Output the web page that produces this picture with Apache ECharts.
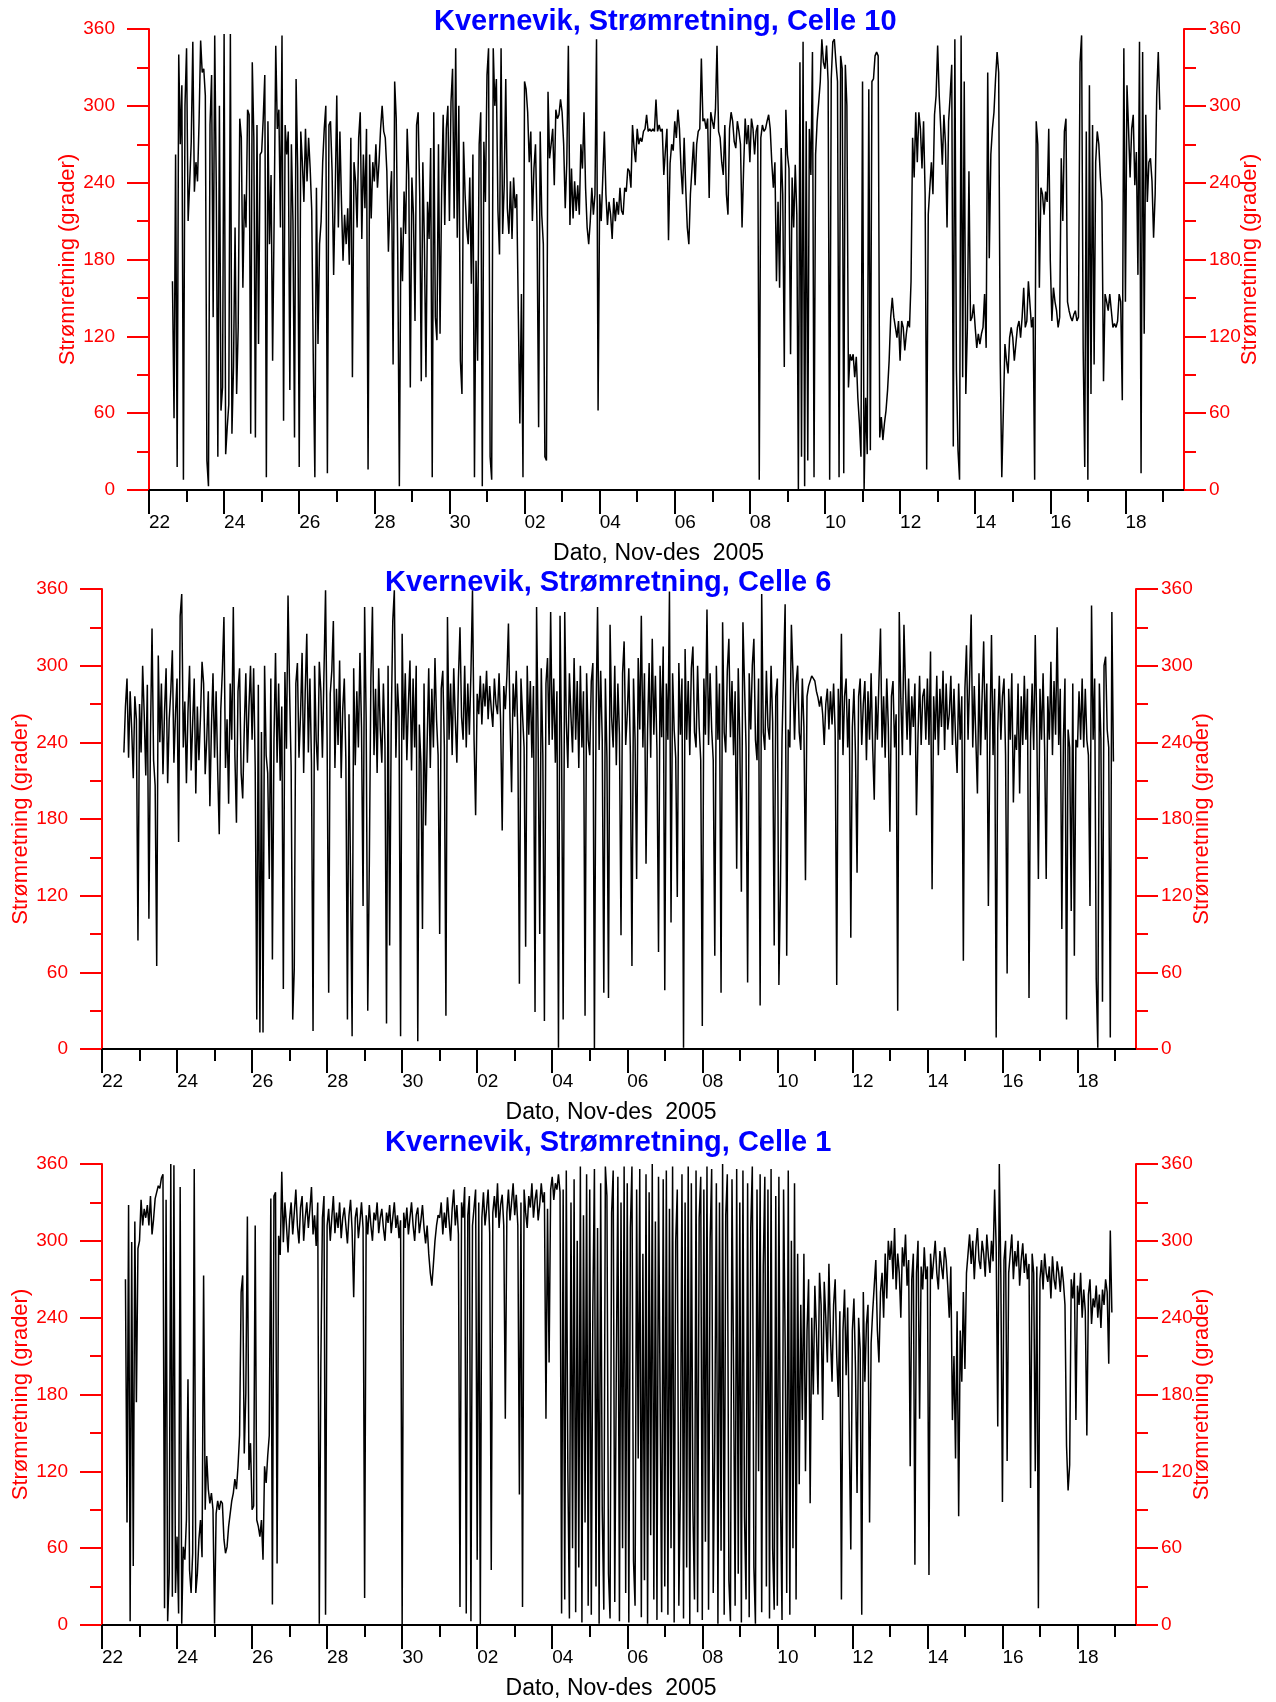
<!DOCTYPE html>
<html><head><meta charset="utf-8">
<script src="https://cdn.jsdelivr.net/npm/echarts@6/dist/echarts.min.js"></script>
<style>html,body{margin:0;padding:0;background:#fff}#c{width:1276px;height:1702px}</style>
</head><body><div id="c"></div>
<script>
// ---------- text ----------
const titles = ['Kvernevik, Strømretning, Celle 10', 'Kvernevik, Strømretning, Celle 6', 'Kvernevik, Strømretning, Celle 1'];
const xAxisName = 'Dato, Nov-des  2005';
const yAxisName = 'Strømretning (grader)';
// x axis: days after 22 Nov 2005 00:00
const majorDays = [0, 2, 4, 6, 8, 10, 12, 14, 16, 18, 20, 22, 24, 26];
const majorLabels = ['22', '24', '26', '28', '30', '02', '04', '06', '08', '10', '12', '14', '16', '18'];
const minorDays = [1, 3, 5, 7, 9, 11, 13, 15, 17, 19, 21, 23, 25, 27];
const xMax = 27.56;
// y axis
const yMin = 0, yMax = 360, yStep = 60;

// ---------- data: hourly direction (degrees), first value at startHour of 22 Nov ----------
const celle10StartHour = 15;
const celle10 = [
  163, 56, 262, 18, 340, 270, 316, 8, 300,
  345, 210, 240, 272, 350, 233, 256, 241, 288, 351, 326, 329, 308, 23, 3, 285, 324, 135, 355, 236, 26, 300, 62, 80,
  356, 28, 49, 67, 356, 44, 96, 205, 75, 127, 290, 275, 158, 231, 205, 297, 293, 44, 334, 275, 41, 285, 114, 262,
  264, 290, 324, 10, 288, 192, 246, 101, 215, 347, 282, 297, 205, 355, 54, 285, 262, 280, 78, 270, 210, 41, 321, 251,
  18, 280, 256, 225, 282, 241, 275, 251, 218, 101, 10, 236, 114, 192, 210, 256, 282, 300, 13, 285, 288, 249, 168, 231,
  308, 205, 280, 225, 179, 215, 192, 220, 176, 275, 88, 256, 241, 205, 275, 295, 196, 262, 220, 282, 16, 262, 212, 256,
  241, 270, 236, 256, 282, 300, 280, 275, 249, 186, 225, 249, 98, 319, 290, 179, 3, 205, 163, 233, 200, 282, 246, 80,
  244, 215, 132, 285, 295, 231, 85, 256, 192, 88, 225, 196, 267, 10, 295, 135, 117, 270, 122, 231, 293, 207, 282, 300,
  210, 303, 329, 212, 345, 197, 300, 101, 75, 272, 231, 205, 192, 244, 161, 262, 10, 179, 101, 270, 295, 3, 272, 225,
  324, 345, 26, 8, 345, 300, 321, 218, 184, 345, 200, 238, 321, 220, 200, 241, 196, 244, 220, 231, 140, 52, 153, 10,
  319, 313, 295, 256, 280, 210, 251, 270, 205, 49, 280, 215, 192, 26, 23, 311, 259, 270, 282, 238, 297, 290, 293, 305,
  295, 270, 220, 256, 347, 207, 251, 212, 241, 218, 238, 215, 270, 251, 295, 236, 205, 192, 210, 236, 215, 231, 352, 62,
  231, 210, 244, 280, 231, 207, 225, 215, 196, 228, 210, 225, 215, 236, 218, 215, 236, 233, 251, 249, 236, 285, 267, 256,
  282, 270, 275, 272, 280, 282, 293, 280, 282, 280, 282, 280, 305, 280, 285, 280, 282, 246, 265, 282, 195, 255, 270, 265,
  288, 275, 297, 282, 251, 231, 275, 236, 205, 192, 231, 251, 272, 238, 270, 280, 282, 337, 288, 290, 282, 290, 228, 295,
  288, 282, 297, 347, 280, 275, 256, 246, 285, 231, 215, 282, 295, 288, 272, 267, 288, 280, 270, 205, 251, 290, 270, 285,
  256, 290, 282, 262, 280, 285, 8, 275, 285, 280, 282, 288, 293, 282, 256, 236, 256, 163, 225, 158, 267, 231, 96, 297,
  262, 251, 106, 244, 205, 254, 215, 0, 334, 26, 350, 3, 288, 23, 282, 246, 342, 10, 262, 288, 303, 319, 352, 334,
  329, 347, 319, 8, 321, 350, 352, 334, 319, 10, 339, 329, 13, 332, 300, 80, 106, 101, 106, 88, 104, 72, 52, 26,
  319, 0, 72, 28, 313, 31, 319, 321, 339, 342, 339, 41, 57, 39, 52, 62, 78, 101, 135, 150, 135, 127, 119, 132,
  101, 132, 127, 109, 122, 132, 127, 163, 275, 244, 295, 256, 295, 282, 251, 288, 231, 16, 215, 236, 256, 231, 293, 308,
  347, 308, 282, 254, 293, 270, 205, 288, 308, 332, 34, 352, 93, 31, 8, 355, 88, 319, 75, 127, 249, 132, 135, 145,
  127, 111, 122, 114, 122, 127, 153, 111, 326, 181, 262, 282, 295, 321, 342, 326, 101, 10, 62, 114, 101, 91, 119, 127,
  119, 101, 114, 127, 132, 119, 135, 158, 127, 132, 163, 145, 127, 135, 8, 288, 270, 158, 236, 231, 215, 233, 225, 282,
  179, 132, 158, 147, 140, 127, 135, 259, 210, 280, 290, 147, 140, 135, 132, 137, 140, 132, 135, 334, 355, 111, 18, 280,
  8, 316, 75, 285, 98, 256, 280, 270, 244, 225, 85, 153, 147, 140, 153, 140, 127, 130, 127, 132, 153, 147, 70, 345,
  147, 316, 282, 244, 282, 293, 238, 264, 168, 350, 13, 342, 122, 293, 225, 256, 259, 241, 197, 231, 308, 342, 297
];

const celle6StartHour = 14;
const celle6 = [
  232, 268, 290, 228, 280, 250, 212, 276, 258, 85,
  270, 232, 300, 262, 214, 285, 102, 245, 329, 226, 206, 65, 308, 240, 286, 215, 264, 298, 208, 258, 280, 312, 224, 262,
  290, 162, 339, 356, 236, 272, 208, 264, 300, 218, 255, 290, 200, 268, 226, 260, 303, 286, 215, 242, 280, 190, 252, 294,
  228, 280, 218, 168, 266, 296, 338, 220, 258, 192, 286, 242, 346, 230, 177, 280, 298, 216, 196, 250, 294, 224, 268, 300,
  242, 298, 220, 23, 285, 13, 248, 13, 300, 230, 216, 133, 290, 70, 242, 310, 224, 286, 210, 268, 47, 295, 235, 355,
  280, 220, 23, 63, 286, 302, 228, 262, 310, 216, 280, 325, 232, 290, 224, 14, 300, 242, 218, 303, 280, 228, 295, 359,
  242, 44, 278, 296, 335, 220, 282, 238, 304, 212, 266, 290, 226, 23, 262, 131, 10, 298, 222, 280, 236, 310, 252, 112,
  346, 256, 30, 145, 290, 346, 230, 282, 216, 298, 250, 224, 286, 238, 20, 300, 81, 252, 335, 359, 228, 286, 260, 10,
  325, 242, 294, 226, 270, 304, 218, 290, 236, 300, 6, 254, 224, 94, 286, 175, 240, 298, 220, 282, 236, 306, 258, 230,
  90, 282, 296, 236, 26, 338, 242, 286, 230, 298, 258, 224, 290, 330, 260, 242, 300, 236, 286, 246, 294, 359, 242, 183,
  278, 262, 292, 254, 286, 268, 296, 258, 284, 266, 252, 290, 270, 262, 294, 256, 171, 284, 266, 292, 333, 258, 201, 286,
  260, 296, 246, 51, 290, 262, 236, 80, 300, 246, 288, 228, 284, 29, 346, 242, 90, 298, 230, 22, 286, 306, 238, 342,
  242, 290, 224, 280, 1, 339, 236, 23, 342, 256, 220, 294, 260, 232, 306, 242, 288, 220, 300, 236, 280, 26, 294, 242,
  230, 288, 302, 0, 258, 346, 234, 296, 242, 44, 290, 228, 40, 332, 260, 236, 300, 222, 286, 246, 89, 294, 319, 238,
  262, 298, 230, 65, 290, 242, 133, 306, 250, 339, 236, 294, 145, 250, 302, 228, 321, 246, 292, 234, 76, 300, 244, 315,
  46, 286, 242, 358, 99, 294, 250, 228, 119, 302, 246, 290, 1, 313, 242, 288, 230, 298, 315, 248, 236, 300, 252, 226,
  18, 290, 246, 344, 238, 294, 250, 226, 73, 300, 242, 286, 44, 334, 248, 232, 296, 321, 244, 288, 230, 280, 141, 298,
  242, 123, 334, 286, 236, 52, 294, 250, 300, 321, 242, 226, 290, 34, 356, 248, 234, 296, 252, 242, 300, 256, 81, 276,
  290, 50, 128, 242, 296, 348, 73, 250, 236, 332, 294, 242, 286, 300, 248, 234, 290, 252, 132, 276, 284, 285, 292, 290,
  288, 280, 275, 268, 276, 262, 238, 270, 282, 250, 280, 254, 286, 248, 50, 282, 242, 325, 230, 276, 290, 236, 274, 87,
  252, 282, 230, 138, 276, 290, 238, 270, 288, 226, 280, 242, 294, 236, 195, 276, 242, 288, 329, 236, 276, 228, 290, 252,
  170, 276, 288, 236, 262, 30, 342, 274, 230, 332, 282, 242, 290, 230, 276, 252, 286, 183, 246, 292, 238, 276, 282, 242,
  290, 238, 311, 125, 276, 242, 292, 230, 282, 252, 296, 234, 286, 250, 262, 292, 238, 282, 244, 216, 286, 242, 276, 69,
  282, 316, 242, 290, 340, 236, 284, 242, 200, 294, 230, 276, 319, 242, 286, 112, 246, 324, 230, 282, 9, 250, 292, 242,
  276, 290, 230, 59, 282, 242, 294, 193, 246, 234, 286, 200, 276, 238, 292, 242, 282, 40, 242, 286, 234, 324, 250, 133,
  282, 242, 294, 234, 133, 276, 242, 303, 230, 288, 246, 330, 238, 282, 94, 242, 290, 23, 250, 236, 108, 286, 73, 242,
  236, 280, 242, 290, 236, 282, 242, 230, 112, 347, 242, 290, 55, 1, 286, 242, 37, 300, 307, 250, 236, 9, 342, 225
];

const celle1StartHour = 15;
const celle1 = [
  270, 80, 328, 3, 299, 46, 315, 174, 294,
  300, 332, 312, 325, 318, 328, 312, 335, 305, 317, 333, 338, 343, 341, 349, 352, 13, 332, 3, 40, 360, 22, 359, 25,
  69, 9, 342, 1, 61, 51, 82, 192, 43, 25, 56, 356, 25, 40, 67, 82, 53, 273, 90, 132, 106, 95, 103, 90,
  1, 87, 97, 90, 97, 95, 67, 56, 61, 77, 87, 97, 103, 114, 106, 124, 148, 260, 273, 134, 181, 319, 121, 142,
  90, 93, 312, 82, 77, 69, 82, 51, 124, 111, 132, 148, 333, 16, 335, 338, 48, 304, 289, 354, 299, 330, 312, 291,
  317, 330, 305, 322, 340, 312, 298, 326, 335, 300, 318, 330, 310, 325, 342, 305, 320, 296, 330, 1, 204, 318, 335, 8,
  312, 325, 300, 318, 335, 306, 322, 310, 330, 302, 318, 326, 312, 298, 320, 332, 308, 256, 318, 326, 302, 315, 330, 310,
  21, 320, 305, 328, 312, 300, 322, 316, 330, 306, 318, 325, 310, 300, 322, 314, 328, 306, 318, 330, 310, 320, 302, 316,
  0, 322, 310, 326, 305, 318, 330, 312, 300, 320, 326, 306, 316, 328, 310, 298, 312, 290, 275, 265, 282, 300, 312, 320,
  318, 330, 305, 322, 310, 334, 316, 300, 325, 340, 312, 328, 305, 14, 330, 318, 342, 9, 320, 335, 3, 312, 326, 340,
  51, 330, 0, 318, 338, 312, 325, 340, 306, 43, 322, 335, 318, 345, 310, 328, 336, 312, 161, 322, 340, 316, 330, 345,
  320, 336, 312, 102, 330, 14, 340, 322, 310, 335, 326, 345, 318, 332, 340, 316, 328, 345, 330, 338, 161, 325, 205, 340,
  350, 332, 345, 340, 352, 338, 9, 340, 20, 355, 120, 5, 330, 60, 348, 10, 300, 45, 358, 2, 320, 80, 352, 15,
  340, 8, 250, 356, 30, 310, 1, 345, 90, 12, 358, 335, 40, 5, 322, 355, 18, 200, 350, 3, 330, 60, 358, 25,
  345, 2, 310, 358, 50, 15, 340, 130, 356, 6, 290, 35, 352, 1, 338, 70, 360, 20, 315, 4, 350, 180, 10, 348,
  30, 355, 8, 325, 60, 358, 2, 300, 340, 15, 110, 352, 5, 330, 45, 358, 0, 345, 90, 20, 355, 10, 318, 350,
  4, 340, 65, 358, 12, 300, 356, 25, 150, 345, 1, 330, 58, 360, 8, 320, 352, 35, 3, 348, 200, 15, 356, 40,
  330, 2, 355, 85, 20, 345, 6, 310, 358, 45, 1, 340, 120, 352, 10, 280, 350, 30, 340, 5, 356, 60, 12, 335,
  15, 350, 100, 4, 340, 220, 25, 355, 8, 300, 60, 345, 20, 290, 110, 250, 160, 290, 120, 230, 270, 95, 240, 180,
  265, 230, 180, 275, 250, 160, 268, 240, 205, 282, 225, 190, 250, 270, 210, 178, 245, 20, 230, 262, 195, 248, 150, 59,
  230, 255, 200, 103, 240, 215, 8, 260, 190, 235, 250, 80, 220, 245, 265, 285, 230, 205, 260, 275, 240, 290, 255, 300,
  285, 300, 270, 310, 262, 290, 275, 240, 295, 280, 305, 265, 285, 124, 270, 290, 47, 275, 300, 161, 280, 262, 295, 270,
  280, 39, 290, 270, 285, 300, 275, 262, 292, 280, 270, 295, 285, 265, 240, 280, 160, 210, 130, 245, 85, 230, 190, 260,
  200, 275, 290, 305, 282, 300, 270, 295, 310, 285, 278, 300, 290, 272, 305, 288, 275, 300, 284, 340, 295, 155, 360, 270,
  96, 285, 300, 128, 275, 290, 305, 270, 292, 280, 300, 265, 285, 298, 275, 290, 270, 282, 107, 290, 275, 120, 280, 13,
  270, 285, 262, 290, 275, 268, 280, 255, 288, 270, 262, 284, 275, 260, 280, 268, 250, 140, 105, 125, 270, 255, 275, 160,
  265, 250, 275, 240, 262, 245, 148, 258, 270, 235, 255, 248, 265, 240, 258, 232, 262, 250, 270, 260, 204, 308, 244
];

// ---------- build ----------
const FONT = '"Liberation Sans", Arial, Helvetica, sans-serif';
const RED = '#ff0000';
const panels = [
  { values: celle10, startHour: celle10StartHour, grid: { left: 149, top: 29, width: 1035, height: 461 }, titleLeft: 434, titleTop: 7 },
  { values: celle6, startHour: celle6StartHour, grid: { left: 102, top: 589, width: 1034, height: 460 }, titleLeft: 385, titleTop: 568 },
  { values: celle1, startHour: celle1StartHour, grid: { left: 102, top: 1164, width: 1034, height: 461 }, titleLeft: 385, titleTop: 1128 }
];

function toSeries(values, startHour) {
  return values.map((v, i) => [(startHour + i) / 24, v]);
}

const option = {
  animation: false,
  backgroundColor: '#ffffff',
  title: [], grid: [], xAxis: [], yAxis: [], series: []
};

panels.forEach((p, i) => {
  option.title.push({
    text: titles[i], left: p.titleLeft, top: p.titleTop, padding: 0,
    textStyle: { color: '#0000ff', fontSize: 29, fontWeight: 'bold', fontFamily: FONT, lineHeight: 30 }
  });
  option.grid.push(Object.assign({ containLabel: false }, p.grid));
  // main x axis (even days, labelled)
  option.xAxis.push({
    gridIndex: i, type: 'value', position: 'bottom', min: 0, max: xMax,
    axisLine: { show: true, onZero: false, lineStyle: { color: '#000', width: 2 } },
    axisTick: { show: true, length: 24, customValues: majorDays, lineStyle: { color: '#000', width: 2 } },
    axisLabel: {
      customValues: majorDays, align: 'left', margin: 23, color: '#000', fontSize: 19, fontFamily: FONT,
      formatter: v => majorLabels[Math.round(v / 2)]
    },
    splitLine: { show: false },
    name: xAxisName, nameLocation: 'middle', nameGap: 52, nameMoveOverlap: false,
    nameTextStyle: { color: '#000', fontSize: 23, fontFamily: FONT, padding: [0, 16, 0, 0] }
  });
  // minor x axis (odd days, short ticks)
  option.xAxis.push({
    gridIndex: i, type: 'value', position: 'bottom', min: 0, max: xMax,
    axisLine: { show: false, onZero: false },
    axisTick: { show: true, length: 12, customValues: minorDays, lineStyle: { color: '#000', width: 2 } },
    axisLabel: { show: false }, splitLine: { show: false }
  });
  const yCommon = {
    gridIndex: i, type: 'value', min: yMin, max: yMax, interval: yStep,
    axisLine: { show: true, onZero: false, lineStyle: { color: RED, width: 2 } },
    axisTick: { show: true, inside: false, length: 22, lineStyle: { color: RED, width: 2 } },
    minorTick: { show: true, splitNumber: 2, length: 12, lineStyle: { color: RED, width: 2 } },
    splitLine: { show: false },
    name: yAxisName, nameLocation: 'middle', nameRotate: 90, nameMoveOverlap: false,
    nameTextStyle: { color: RED, fontSize: 22, fontFamily: FONT }
  };
  option.yAxis.push(Object.assign({}, yCommon, {
    position: 'left', nameGap: 70,
    axisLabel: { color: RED, fontSize: 19, fontFamily: FONT, margin: 34 }
  }));
  option.yAxis.push(Object.assign({}, yCommon, {
    position: 'right', nameGap: 55,
    axisLabel: { color: RED, fontSize: 19, fontFamily: FONT, margin: 25 }
  }));
  option.series.push({
    type: 'line', xAxisIndex: 2 * i, yAxisIndex: 2 * i,
    data: toSeries(p.values, p.startHour),
    showSymbol: false, symbol: 'none', silent: true,
    lineStyle: { color: '#000', width: 1.5 }
  });
});

const chart = echarts.init(document.getElementById('c'), null, { renderer: 'canvas', devicePixelRatio: 1 });
chart.setOption(option);
</script>
</body></html>
